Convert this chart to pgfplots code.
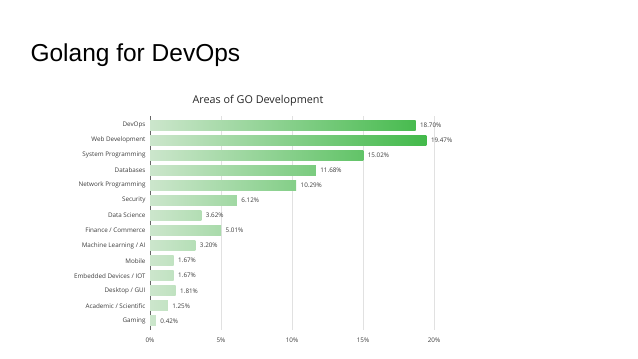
\documentclass[border=0pt]{standalone}
\usepackage{fontspec}
\setmainfont{Liberation Sans}
\newfontfamily\osans{Open Sans}
\usepackage{pgfplots}
\pgfplotsset{compat=1.18}
\definecolor{lightg}{RGB}{204,230,204}
\definecolor{darkg}{RGB}{62,184,70}
\definecolor{gridc}{RGB}{225,225,225}
\definecolor{txt}{RGB}{60,60,60}
\begin{document}
\begin{tikzpicture}[x=1pt,y=1pt]
\path[use as bounding box] (0pt,0pt) rectangle (638pt,359pt);
\node[anchor=base west,font=\fontsize{24.5}{28}\selectfont] at (27pt,297pt) {Golang for DevOps};
\node[anchor=base,font=\osans\fontsize{10.8}{12}\selectfont,text=black!85] at (258pt,255pt) {Areas of GO Development};
\begin{axis}[
  at={(150pt,29pt)}, anchor=south west,
  scale only axis, width=284pt, height=214pt,
  xmin=0, xmax=20, ymin=-0.6, ymax=13.6,
  clip=false,
  axis lines=left,
  axis line style={-},
  x axis line style={draw=none},
  y axis line style={draw=black!60, line width=0.8pt},
  xtick={0,5,10,15,20},
  xticklabels={0\%,5\%,10\%,15\%,20\%},
  xmajorgrids, grid style={gridc, line width=0.6pt},
  ytick={0,...,13},
  yticklabels={Gaming,Academic / Scientific,Desktop / GUI,Embedded Devices / IOT,Mobile,Machine Learning / AI,Finance / Commerce,Data Science,Security,Network Programming,Databases,System Programming,Web Development,DevOps},
  major tick length=0pt,
  tick label style={font=\osans\fontsize{6.3}{7}\selectfont, text=txt},
  yticklabel style={xshift=-1pt},
  xticklabel style={yshift=-4pt},
  xbar, bar width=10pt, bar shift=0pt,
  point meta=x,
  /pgf/number format/assume math mode=true,
  nodes near coords={\pgfmathprintnumber[fixed,fixed zerofill,precision=2]{\pgfplotspointmeta}\%},
  nodes near coords style={font=\osans\fontsize{6.3}{7}\selectfont, text=txt, anchor=west, xshift=1pt},
]
\addplot[draw=none, left color=lightg, right color=darkg!93!lightg] coordinates {(18.70,13)};
\addplot[draw=none, left color=lightg, right color=darkg!97!lightg] coordinates {(19.47,12)};
\addplot[draw=none, left color=lightg, right color=darkg!75!lightg] coordinates {(15.02,11)};
\addplot[draw=none, left color=lightg, right color=darkg!58!lightg] coordinates {(11.68,10)};
\addplot[draw=none, left color=lightg, right color=darkg!51!lightg] coordinates {(10.29,9)};
\addplot[draw=none, left color=lightg, right color=darkg!31!lightg] coordinates {(6.12,8)};
\addplot[draw=none, left color=lightg, right color=darkg!18!lightg] coordinates {(3.62,7)};
\addplot[draw=none, left color=lightg, right color=darkg!25!lightg] coordinates {(5.01,6)};
\addplot[draw=none, left color=lightg, right color=darkg!16!lightg] coordinates {(3.20,5)};
\addplot[draw=none, left color=lightg, right color=darkg!8!lightg] coordinates {(1.67,4)};
\addplot[draw=none, left color=lightg, right color=darkg!8!lightg] coordinates {(1.67,3)};
\addplot[draw=none, left color=lightg, right color=darkg!9!lightg] coordinates {(1.81,2)};
\addplot[draw=none, left color=lightg, right color=darkg!6!lightg] coordinates {(1.25,1)};
\addplot[draw=none, left color=lightg, right color=darkg!2!lightg] coordinates {(0.42,0)};
\end{axis}
\end{tikzpicture}
\end{document}
